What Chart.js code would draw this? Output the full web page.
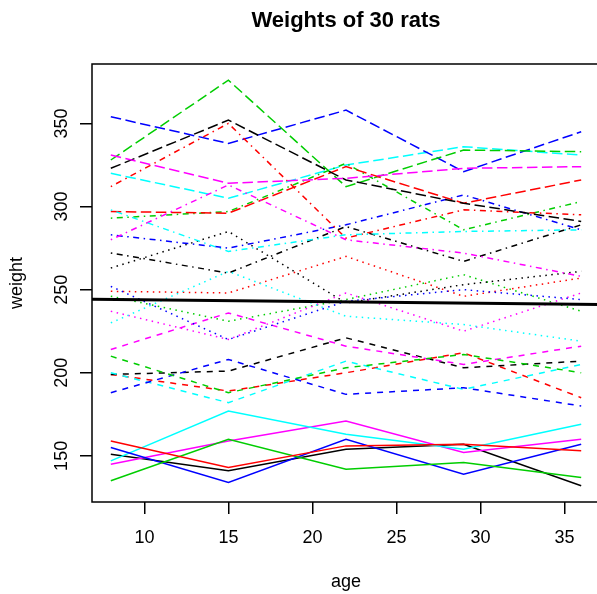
<!DOCTYPE html>
<html>
<head>
<meta charset="utf-8">
<script src="https://cdn.jsdelivr.net/npm/chart.js@4/dist/chart.umd.min.js"></script>
<style>html,body{margin:0;padding:0;background:#fff;overflow:hidden}</style>
</head>
<body>
<canvas id="c" width="610" height="594"></canvas>
<script>
// ages on the x axis
const ages=[8,15,22,29,36];
// the 30 plotted columns, one per line, in drawing order
const weights=[
 [151,141,154,157,132],[199,189,200,212,185],[246,231,244,259,237],[283,275,289,307,286],[320,305,325,336,331],
 [145,159,171,152,160],[199,201,221,203,207],[249,248,270,246,257],[293,297,326,286,303],[354,338,358,321,345],
 [147,177,163,154,169],[214,236,216,205,216],[263,285,242,253,261],[312,350,281,298,295],[328,376,312,334,333],
 [155,134,160,139,157],[200,182,207,190,205],[237,220,248,225,248],[272,260,288,267,289],[297,296,324,302,316],
 [135,160,142,146,137],[188,208,187,191,180],[230,261,234,229,219],[280,313,280,272,258],[323,352,316,302,291],
 [159,143,156,157,153],[210,188,203,211,200],[252,220,243,250,244],[298,273,283,285,286],[331,314,317,323,324]
];
// fitted straight line, read at the two ends of the x range
const fitX=[6.88,37.12];
const fitY=[244.2,241.1];
const xTicks=[10,15,20,25,30,35];
const yTicks=[150,200,250,300,350];
const xMin=6.88, xMax=37.12, yMin=122.24, yMax=385.76;
const title="Weights of 30 rats", xLabel="age", yLabel="weight";

const palette=["#000000","#FF0000","#00CD00","#0000FF","#00FFFF","#FF00FF"];
const dashes=[[],[6,6],[1.5,4.5],[1.5,4.5,6,4.5],[10.5,4.5]];

const datasets=weights.map((w,k)=>({
  data:w.map((v,i)=>({x:ages[i],y:v})),
  borderColor:palette[k%6],
  borderDash:dashes[k%5],
  borderWidth:1.5,
  pointRadius:0,
  tension:0,
  fill:false,
  order:-k
}));
datasets.push({
  data:fitX.map((x,i)=>({x:x,y:fitY[i]})),
  borderColor:"#000",borderWidth:3,pointRadius:0,fill:false,order:-100
});

const FONT="'Liberation Sans', Arial, Helvetica, sans-serif";
const frame={id:"frame",afterDraw(ch){
  const c=ch.ctx, a=ch.chartArea, xs=ch.scales.x, ys=ch.scales.y;
  c.save();
  c.strokeStyle="#000"; c.lineWidth=1.5;
  c.strokeRect(a.left,a.top,a.right-a.left,a.bottom-a.top);
  c.fillStyle="#000";
  c.font="18px "+FONT;
  c.textAlign="center"; c.textBaseline="alphabetic";
  xTicks.forEach(v=>c.fillText(String(v),xs.getPixelForValue(v),543));
  yTicks.forEach(v=>{
    c.save(); c.translate(67,ys.getPixelForValue(v)); c.rotate(-Math.PI/2);
    c.fillText(String(v),0,0); c.restore();
  });
  const mid=(a.left+a.right)/2;
  c.fillText(xLabel,mid,587);
  c.save(); c.translate(22,(a.top+a.bottom)/2); c.rotate(-Math.PI/2);
  c.fillText(yLabel,0,0); c.restore();
  c.font="bold 22px "+FONT;
  c.fillText(title,mid,27);
  c.restore();
}};

const axisGrid={drawOnChartArea:false,drawTicks:true,tickLength:12,color:"#000",lineWidth:1.5};
new Chart(document.getElementById("c"),{
  type:"line",
  data:{datasets},
  options:{
    responsive:false,animation:false,
    layout:{padding:{top:64,right:10,left:0,bottom:0}},
    plugins:{legend:{display:false},tooltip:{enabled:false},title:{display:false}},
    scales:{
      x:{type:"linear",min:xMin,max:xMax,
        afterBuildTicks(s){s.ticks=xTicks.map(v=>({value:v}));},
        afterFit(s){s.height=92;},
        ticks:{display:false},grid:axisGrid,border:{display:false}},
      y:{type:"linear",min:yMin,max:yMax,
        afterBuildTicks(s){s.ticks=yTicks.map(v=>({value:v}));},
        afterFit(s){s.width=92;},
        ticks:{display:false},grid:axisGrid,border:{display:false}}
    }
  },
  plugins:[frame]
});
</script>
</body>
</html>
